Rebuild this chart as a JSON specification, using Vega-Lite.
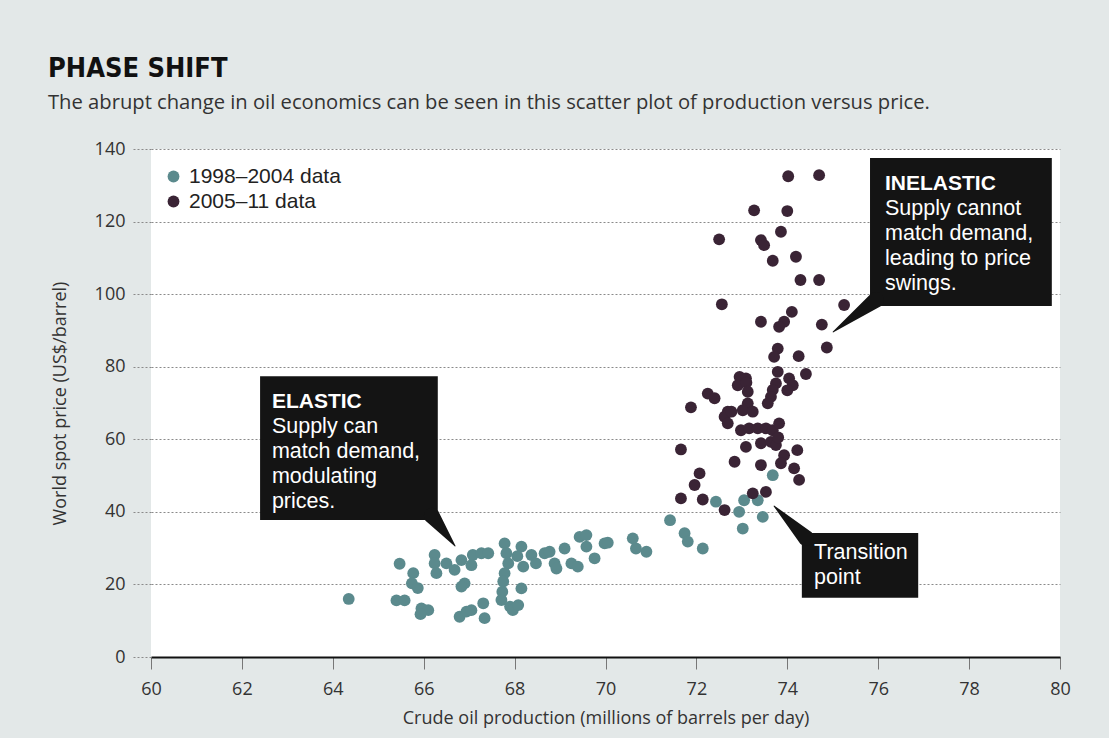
{
  "$schema": "https://vega.github.io/schema/vega-lite/v6.json",
  "autosize": "none",
  "width": 909,
  "height": 508,
  "padding": {"left": 151, "top": 149, "right": 49, "bottom": 81},
  "background": "#e3e8e8",
  "title": {
    "text": "PHASE SHIFT",
    "subtitle": "The abrupt change in oil economics can be seen in this scatter plot of production versus price.",
    "anchor": "start",
    "frame": "group",
    "dx": -103,
    "offset": 26,
    "font": "DejaVu Sans Condensed, Roboto, sans-serif",
    "fontSize": 27,
    "fontWeight": "bold",
    "color": "#111111",
    "subtitleFont": "Open Sans",
    "subtitleFontSize": 20.2,
    "subtitleColor": "#333333",
    "subtitlePadding": 10
  },
  "config": {
    "view": {"fill": "white", "stroke": null},
    "font": "Open Sans"
  },
  "datasets": {
    "points": [
      {"prod": 64.35, "price": 16.0, "period": "1998–2004 data"},
      {"prod": 65.47, "price": 25.7, "period": "1998–2004 data"},
      {"prod": 65.40, "price": 15.6, "period": "1998–2004 data"},
      {"prod": 65.58, "price": 15.6, "period": "1998–2004 data"},
      {"prod": 65.77, "price": 23.1, "period": "1998–2004 data"},
      {"prod": 65.74, "price": 20.3, "period": "1998–2004 data"},
      {"prod": 65.87, "price": 19.0, "period": "1998–2004 data"},
      {"prod": 65.95, "price": 13.4, "period": "1998–2004 data"},
      {"prod": 66.10, "price": 12.9, "period": "1998–2004 data"},
      {"prod": 65.93, "price": 11.8, "period": "1998–2004 data"},
      {"prod": 66.24, "price": 28.1, "period": "1998–2004 data"},
      {"prod": 66.24, "price": 25.8, "period": "1998–2004 data"},
      {"prod": 66.28, "price": 23.1, "period": "1998–2004 data"},
      {"prod": 66.50, "price": 25.8, "period": "1998–2004 data"},
      {"prod": 66.68, "price": 24.0, "period": "1998–2004 data"},
      {"prod": 66.83, "price": 26.7, "period": "1998–2004 data"},
      {"prod": 66.90, "price": 20.3, "period": "1998–2004 data"},
      {"prod": 66.83, "price": 19.4, "period": "1998–2004 data"},
      {"prod": 67.08, "price": 28.1, "period": "1998–2004 data"},
      {"prod": 67.05, "price": 25.3, "period": "1998–2004 data"},
      {"prod": 67.27, "price": 28.6, "period": "1998–2004 data"},
      {"prod": 67.42, "price": 28.6, "period": "1998–2004 data"},
      {"prod": 66.79, "price": 11.1, "period": "1998–2004 data"},
      {"prod": 66.94, "price": 12.5, "period": "1998–2004 data"},
      {"prod": 67.05, "price": 12.9, "period": "1998–2004 data"},
      {"prod": 67.31, "price": 14.8, "period": "1998–2004 data"},
      {"prod": 67.34, "price": 10.7, "period": "1998–2004 data"},
      {"prod": 67.78, "price": 31.3, "period": "1998–2004 data"},
      {"prod": 67.82, "price": 28.6, "period": "1998–2004 data"},
      {"prod": 67.86, "price": 25.8, "period": "1998–2004 data"},
      {"prod": 67.78, "price": 23.1, "period": "1998–2004 data"},
      {"prod": 67.75, "price": 20.8, "period": "1998–2004 data"},
      {"prod": 67.73, "price": 18.0, "period": "1998–2004 data"},
      {"prod": 67.71, "price": 15.7, "period": "1998–2004 data"},
      {"prod": 67.90, "price": 13.9, "period": "1998–2004 data"},
      {"prod": 67.96, "price": 12.9, "period": "1998–2004 data"},
      {"prod": 68.08, "price": 14.3, "period": "1998–2004 data"},
      {"prod": 68.15, "price": 18.9, "period": "1998–2004 data"},
      {"prod": 68.15, "price": 30.4, "period": "1998–2004 data"},
      {"prod": 68.19, "price": 24.9, "period": "1998–2004 data"},
      {"prod": 68.06, "price": 27.8, "period": "1998–2004 data"},
      {"prod": 68.37, "price": 28.1, "period": "1998–2004 data"},
      {"prod": 68.47, "price": 25.8, "period": "1998–2004 data"},
      {"prod": 68.66, "price": 28.6, "period": "1998–2004 data"},
      {"prod": 68.77, "price": 29.0, "period": "1998–2004 data"},
      {"prod": 68.88, "price": 25.8, "period": "1998–2004 data"},
      {"prod": 68.92, "price": 24.4, "period": "1998–2004 data"},
      {"prod": 69.10, "price": 29.9, "period": "1998–2004 data"},
      {"prod": 69.25, "price": 25.8, "period": "1998–2004 data"},
      {"prod": 69.39, "price": 24.9, "period": "1998–2004 data"},
      {"prod": 69.43, "price": 33.1, "period": "1998–2004 data"},
      {"prod": 69.58, "price": 33.6, "period": "1998–2004 data"},
      {"prod": 69.58, "price": 30.4, "period": "1998–2004 data"},
      {"prod": 69.76, "price": 27.2, "period": "1998–2004 data"},
      {"prod": 69.98, "price": 31.3, "period": "1998–2004 data"},
      {"prod": 70.05, "price": 31.5, "period": "1998–2004 data"},
      {"prod": 70.60, "price": 32.7, "period": "1998–2004 data"},
      {"prod": 70.67, "price": 29.9, "period": "1998–2004 data"},
      {"prod": 70.90, "price": 29.0, "period": "1998–2004 data"},
      {"prod": 71.42, "price": 37.7, "period": "1998–2004 data"},
      {"prod": 71.74, "price": 34.1, "period": "1998–2004 data"},
      {"prod": 71.81, "price": 31.8, "period": "1998–2004 data"},
      {"prod": 72.14, "price": 29.9, "period": "1998–2004 data"},
      {"prod": 72.43, "price": 42.8, "period": "1998–2004 data"},
      {"prod": 73.05, "price": 43.2, "period": "1998–2004 data"},
      {"prod": 73.35, "price": 43.2, "period": "1998–2004 data"},
      {"prod": 72.94, "price": 40.0, "period": "1998–2004 data"},
      {"prod": 73.02, "price": 35.4, "period": "1998–2004 data"},
      {"prod": 73.46, "price": 38.6, "period": "1998–2004 data"},
      {"prod": 73.68, "price": 50.1, "period": "1998–2004 data"},
      {"prod": 74.02, "price": 132.5, "period": "2005–11 data"},
      {"prod": 74.70, "price": 132.8, "period": "2005–11 data"},
      {"prod": 73.27, "price": 123.1, "period": "2005–11 data"},
      {"prod": 74.00, "price": 122.9, "period": "2005–11 data"},
      {"prod": 72.50, "price": 115.1, "period": "2005–11 data"},
      {"prod": 73.42, "price": 114.9, "period": "2005–11 data"},
      {"prod": 73.49, "price": 113.5, "period": "2005–11 data"},
      {"prod": 73.86, "price": 117.2, "period": "2005–11 data"},
      {"prod": 73.68, "price": 109.2, "period": "2005–11 data"},
      {"prod": 74.19, "price": 110.3, "period": "2005–11 data"},
      {"prod": 74.29, "price": 103.9, "period": "2005–11 data"},
      {"prod": 74.70, "price": 103.9, "period": "2005–11 data"},
      {"prod": 72.56, "price": 97.2, "period": "2005–11 data"},
      {"prod": 75.25, "price": 97.0, "period": "2005–11 data"},
      {"prod": 74.10, "price": 95.1, "period": "2005–11 data"},
      {"prod": 73.42, "price": 92.4, "period": "2005–11 data"},
      {"prod": 73.93, "price": 92.4, "period": "2005–11 data"},
      {"prod": 73.82, "price": 91.0, "period": "2005–11 data"},
      {"prod": 74.76, "price": 91.6, "period": "2005–11 data"},
      {"prod": 74.87, "price": 85.3, "period": "2005–11 data"},
      {"prod": 73.79, "price": 85.0, "period": "2005–11 data"},
      {"prod": 73.71, "price": 82.7, "period": "2005–11 data"},
      {"prod": 74.25, "price": 82.9, "period": "2005–11 data"},
      {"prod": 74.41, "price": 78.0, "period": "2005–11 data"},
      {"prod": 73.79, "price": 78.6, "period": "2005–11 data"},
      {"prod": 72.95, "price": 77.2, "period": "2005–11 data"},
      {"prod": 73.09, "price": 76.8, "period": "2005–11 data"},
      {"prod": 72.91, "price": 74.9, "period": "2005–11 data"},
      {"prod": 73.10, "price": 75.6, "period": "2005–11 data"},
      {"prod": 74.04, "price": 76.8, "period": "2005–11 data"},
      {"prod": 74.12, "price": 74.9, "period": "2005–11 data"},
      {"prod": 74.00, "price": 73.5, "period": "2005–11 data"},
      {"prod": 73.75, "price": 75.4, "period": "2005–11 data"},
      {"prod": 73.68, "price": 73.6, "period": "2005–11 data"},
      {"prod": 73.64, "price": 71.7, "period": "2005–11 data"},
      {"prod": 73.57, "price": 69.9, "period": "2005–11 data"},
      {"prod": 72.25, "price": 72.6, "period": "2005–11 data"},
      {"prod": 72.40, "price": 71.3, "period": "2005–11 data"},
      {"prod": 73.13, "price": 73.1, "period": "2005–11 data"},
      {"prod": 73.13, "price": 69.9, "period": "2005–11 data"},
      {"prod": 71.88, "price": 68.8, "period": "2005–11 data"},
      {"prod": 72.69, "price": 67.6, "period": "2005–11 data"},
      {"prod": 72.62, "price": 66.2, "period": "2005–11 data"},
      {"prod": 72.69, "price": 64.4, "period": "2005–11 data"},
      {"prod": 72.77, "price": 67.6, "period": "2005–11 data"},
      {"prod": 73.02, "price": 68.0, "period": "2005–11 data"},
      {"prod": 73.24, "price": 67.6, "period": "2005–11 data"},
      {"prod": 72.98, "price": 62.5, "period": "2005–11 data"},
      {"prod": 73.16, "price": 63.0, "period": "2005–11 data"},
      {"prod": 73.35, "price": 63.0, "period": "2005–11 data"},
      {"prod": 73.53, "price": 63.0, "period": "2005–11 data"},
      {"prod": 73.68, "price": 62.5, "period": "2005–11 data"},
      {"prod": 73.82, "price": 64.4, "period": "2005–11 data"},
      {"prod": 73.42, "price": 58.9, "period": "2005–11 data"},
      {"prod": 73.64, "price": 59.3, "period": "2005–11 data"},
      {"prod": 73.75, "price": 58.4, "period": "2005–11 data"},
      {"prod": 73.09, "price": 57.9, "period": "2005–11 data"},
      {"prod": 74.22, "price": 57.0, "period": "2005–11 data"},
      {"prod": 71.66, "price": 57.2, "period": "2005–11 data"},
      {"prod": 73.93, "price": 55.6, "period": "2005–11 data"},
      {"prod": 73.86, "price": 53.4, "period": "2005–11 data"},
      {"prod": 72.84, "price": 53.8, "period": "2005–11 data"},
      {"prod": 73.42, "price": 52.9, "period": "2005–11 data"},
      {"prod": 74.15, "price": 52.0, "period": "2005–11 data"},
      {"prod": 72.07, "price": 50.6, "period": "2005–11 data"},
      {"prod": 74.26, "price": 48.8, "period": "2005–11 data"},
      {"prod": 71.96, "price": 47.4, "period": "2005–11 data"},
      {"prod": 71.66, "price": 43.7, "period": "2005–11 data"},
      {"prod": 72.14, "price": 43.4, "period": "2005–11 data"},
      {"prod": 72.62, "price": 40.5, "period": "2005–11 data"},
      {"prod": 73.24, "price": 45.1, "period": "2005–11 data"},
      {"prod": 73.53, "price": 45.5, "period": "2005–11 data"},
      {"prod": 73.80, "price": 60.5, "period": "2005–11 data"}
    ],
    "boxes": [
      {"box": "elastic", "x1": 62.40, "x2": 66.31, "y1": 37.75, "y2": 77.4},
      {"box": "inelastic", "x1": 75.82, "x2": 79.82, "y1": 96.7, "y2": 137.5},
      {"box": "transition", "x1": 74.32, "x2": 76.88, "y1": 16.3, "y2": 34.2}
    ],
    "tails": [
      {"box": "elastic", "end": "base", "x": 66.18, "y": 38.9},
      {"box": "elastic", "end": "tip", "x": 66.69, "y": 30.6},
      {"box": "inelastic", "end": "base", "x": 75.95, "y": 98.4},
      {"box": "inelastic", "end": "tip", "x": 75.01, "y": 89.6},
      {"box": "transition", "end": "base", "x": 74.41, "y": 32.8},
      {"box": "transition", "end": "tip", "x": 73.71, "y": 41.6}
    ],
    "heads": [
      {"x": 62.66, "y": 68.5, "t": "ELASTIC"},
      {"x": 76.15, "y": 128.7, "t": "INELASTIC"}
    ],
    "bodies": [
      {"x": 62.66, "y": 61.6, "t": ["Supply can", "match demand,", "modulating", "prices."]},
      {"x": 76.15, "y": 121.8, "t": ["Supply cannot", "match demand,", "leading to price", "swings."]},
      {"x": 74.59, "y": 27.0, "t": ["Transition", "point"]}
    ]
  },
  "layer": [
    {
      "data": {"name": "points"},
      "mark": {"type": "circle", "size": 140, "opacity": 1},
      "encoding": {
        "x": {
          "field": "prod",
          "type": "quantitative",
          "scale": {"domain": [60, 80], "nice": false, "zero": false},
          "axis": {
            "title": "Crude oil production (millions of barrels per day)",
            "values": [60, 62, 64, 66, 68, 70, 72, 74, 76, 78, 80],
            "labelFlush": false,
            "grid": false,
            "domainColor": "#111111",
            "domainWidth": 2,
            "tickColor": "#777777",
            "tickSize": 12,
            "tickWidth": 1,
            "labelFont": "Open Sans",
            "labelFontSize": 18,
            "labelColor": "#333333",
            "labelPadding": 11,
            "titleFont": "Open Sans",
            "titleFontSize": 18,
            "titleFontWeight": "normal",
            "titleColor": "#333333",
            "titlePadding": 11
          }
        },
        "y": {
          "field": "price",
          "type": "quantitative",
          "scale": {"domain": [0, 140], "nice": false},
          "axis": {
            "title": "World spot price (US$/barrel)",
            "values": [0, 20, 40, 60, 80, 100, 120, 140],
            "grid": true,
            "gridColor": "#8a8a8a",
            "gridDash": [2, 2],
            "gridWidth": 1,
            "domain": false,
            "tickSize": 20,
            "tickColor": "#8a8a8a",
            "tickDash": [2, 2],
            "labelFont": "Open Sans",
            "labelFontSize": 18,
            "labelColor": "#333333",
            "labelPadding": 6,
            "titleFont": "Open Sans",
            "titleFontSize": 18,
            "titleFontWeight": "normal",
            "titleColor": "#333333",
            "titlePadding": 25
          }
        },
        "color": {
          "field": "period",
          "type": "nominal",
          "scale": {"domain": ["1998–2004 data", "2005–11 data"], "range": ["#5b8a8d", "#3a2435"]},
          "legend": {
            "title": null,
            "orient": "none",
            "legendX": 12,
            "legendY": 17,
            "padding": 0,
            "symbolType": "circle",
            "symbolSize": 140,
            "symbolStrokeWidth": 0,
            "labelFont": "Liberation Sans",
            "labelFontSize": 21,
            "labelColor": "#222222",
            "labelOffset": 5,
            "rowPadding": 3
          }
        }
      }
    },
    {
      "data": {"name": "boxes"},
      "mark": {"type": "rect", "color": "#141414"},
      "encoding": {
        "x": {"field": "x1", "type": "quantitative"},
        "x2": {"field": "x2"},
        "y": {"field": "y1", "type": "quantitative"},
        "y2": {"field": "y2"}
      }
    },
    {
      "data": {"name": "tails"},
      "mark": {"type": "trail", "color": "#141414"},
      "encoding": {
        "x": {"field": "x", "type": "quantitative"},
        "y": {"field": "y", "type": "quantitative"},
        "detail": {"field": "box", "type": "nominal"},
        "size": {
          "field": "end",
          "type": "ordinal",
          "scale": {"domain": ["tip", "base"], "range": [0, 16]},
          "legend": null
        }
      }
    },
    {
      "data": {"name": "heads"},
      "mark": {"type": "text", "align": "left", "baseline": "alphabetic", "font": "Liberation Sans", "fontSize": 21, "fontWeight": "bold", "color": "white"},
      "encoding": {
        "x": {"field": "x", "type": "quantitative"},
        "y": {"field": "y", "type": "quantitative"},
        "text": {"field": "t"}
      }
    },
    {
      "data": {"name": "bodies"},
      "mark": {"type": "text", "align": "left", "baseline": "alphabetic", "font": "Liberation Sans", "fontSize": 21.5, "lineHeight": 25, "color": "white"},
      "encoding": {
        "x": {"field": "x", "type": "quantitative"},
        "y": {"field": "y", "type": "quantitative"},
        "text": {"field": "t"}
      }
    }
  ]
}
